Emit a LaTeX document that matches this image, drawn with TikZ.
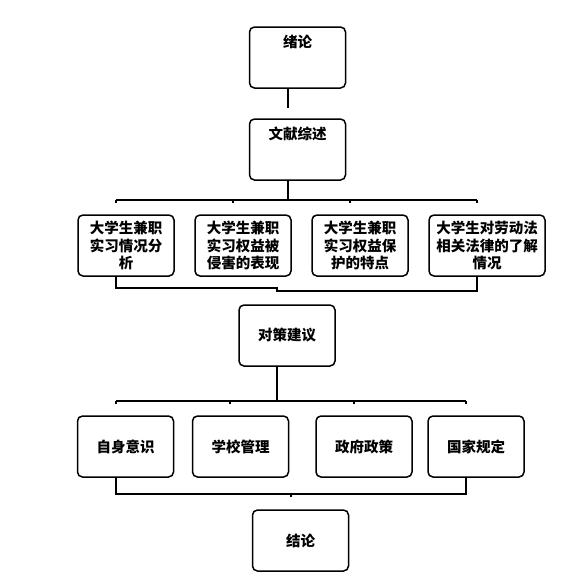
\documentclass[tikz,border=0pt]{standalone}
\usepackage{fontspec}
\newfontfamily\cjk{Noto Sans CJK SC}

\begin{document}
\begin{tikzpicture}[x=1pt, y=-1pt,
  box/.style={draw, line width=1.5pt, rounded corners=5pt, minimum width=96pt,
    minimum height=61pt, inner sep=2pt, align=center,
    font=\cjk\bfseries\fontsize{14.5}{17.5}\selectfont},
  topbox/.style={box, text height=15.5pt, text depth=35.5pt, inner ysep=5pt},
  link/.style={line width=1.6pt}]
\useasboundingbox (0,0) rectangle (586,576);

% top boxes
\node[topbox] (xulun) at (297.5,57.5) {绪论};
\node[topbox] (wenxian) at (297.5,149.5) {文献综述};

% first row
\node[box] (qingkuang) at (126,245.5) {大学生兼职\\实习情况分\\析};
\node[box] (qinhai) at (243,245.5) {大学生兼职\\实习权益被\\侵害的表现};
\node[box] (baohu) at (360,245.5) {大学生兼职\\实习权益保\\护的特点};
\node[box, minimum width=116pt] (liaojie) at (487,245.5) {大学生对劳动法\\相关法律的了解\\情况};

% middle box
\node[box] (duice) at (287,335.5) {对策建议};

% second row
\node[box] (yishi) at (125.5,446.5) {自身意识};
\node[box] (xuexiao) at (240.5,446.5) {学校管理};
\node[box] (zhengfu) at (364,446.5) {政府政策};
\node[box] (guojia) at (476,446.5) {国家规定};

% bottom box
\node[box] (jielun) at (300.5,540.5) {结论};

% links
\coordinate (s1) at (288,108);
\draw[link] (s1 |- xulun.south) -- (s1);

\coordinate (h1) at (288,200);
\coordinate (h1l) at (116,200);
\coordinate (h1r) at (477,200);
\draw[link] (h1 |- wenxian.south) -- (h1);
\draw[link] (h1l) -- (h1r);
\foreach\x in {116, 233, 350, 477}
\draw[link] (\x,200) -- ++(0,3);

\coordinate (m1l) at (116,288);
\coordinate (m1r) at (477,291);
\draw[link] (qingkuang.south -| m1l) -- (m1l) -- (277,288) -- (277,291)
  -- (m1r) -- (liaojie.south -| m1r);

\coordinate (h2) at (277,401);
\coordinate (h2l) at (116,401);
\coordinate (h2r) at (466,401);
\draw[link] (h2 |- duice.south) -- (h2);
\draw[link] (h2l) -- (h2r);
\foreach\x in {116, 230, 354, 466}
\draw[link] (\x,401) -- ++(0,3);

\coordinate (m2l) at (116,494);
\coordinate (m2r) at (466,494);
\draw[link] (yishi.south -| m2l) -- (m2l) -- (m2r) -- (guojia.south -| m2r);
\draw[link] (291,494) -- ++(0,3);
\end{tikzpicture}
\end{document}
